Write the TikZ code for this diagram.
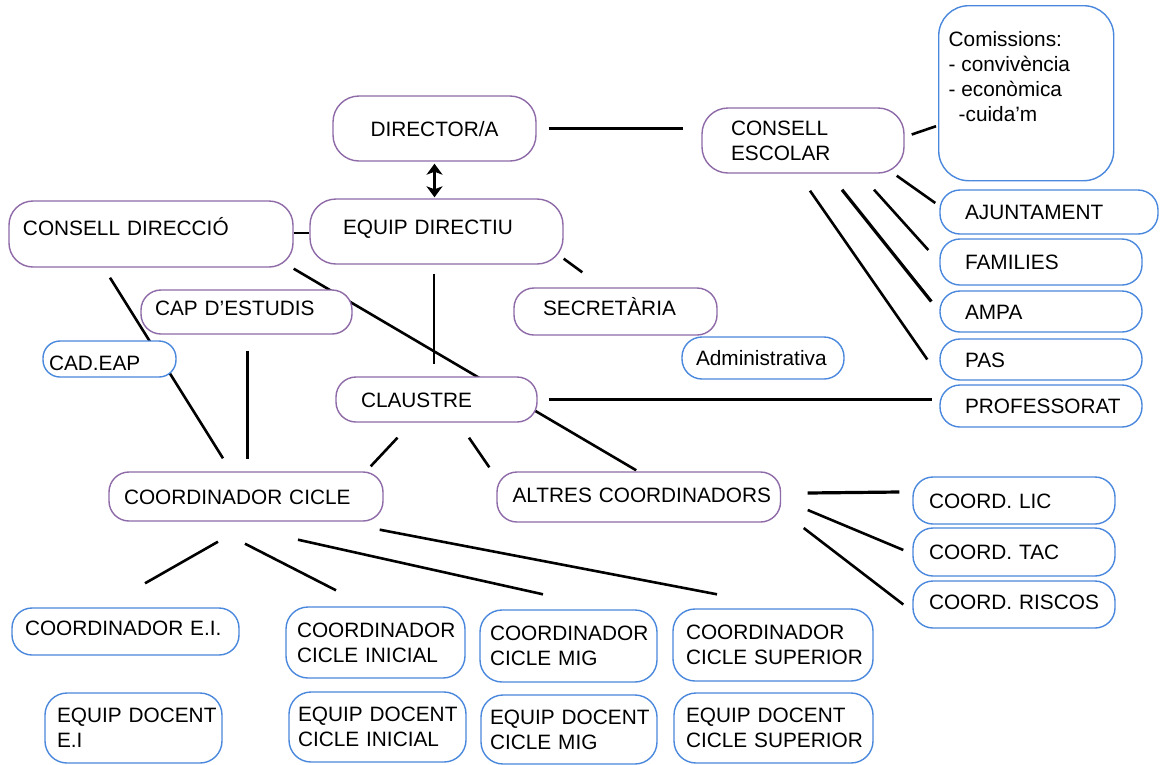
\documentclass[tikz,border=0pt]{standalone}
\usepackage{fontspec}
\setmainfont{Liberation Sans}
\usetikzlibrary{arrows.meta,calc,backgrounds}
\definecolor{purp}{HTML}{8E6AA8}
\definecolor{blu}{HTML}{4A88DD}
\newcommand\nodefont{\fontsize{20.8pt}{25pt}\selectfont}
\hyphenpenalty=10000
\exhyphenpenalty=10000
\begin{document}
\begin{tikzpicture}[x=1pt,y=-1pt,
  base/.style={draw, fill=white, line width=1.4pt, rounded corners=20pt, font=\nodefont, align=left, inner ysep=0pt},
  pbox/.style={base, draw=purp},
  bbox/.style={base, draw=blu},
  one/.style={text height=15pt, text depth=#1},
  one/.default=0pt,
  conn/.style={line width=2.6pt, black},
  connb/.style={line width=3.2pt, black},
  dbl/.style={line width=2.6pt, black, {Stealth[length=11pt,width=16pt,inset=3pt]}-{Stealth[length=11pt,width=16pt,inset=3pt]}}
]
\useasboundingbox (0,0) rectangle (1160,764);

% purple nodes
\node[pbox, one, rounded corners=26pt, align=center, minimum width=203pt, minimum height=65pt, inner xsep=0pt] (dir) at (434.5,128.5) {DIRECTOR/A};
\node[pbox, one=9pt, rounded corners=26pt, minimum width=253pt, minimum height=65pt, inner xsep=33pt, text width=187pt] (ed) at (436.5,231.5) {EQUIP~DIRECTIU};
\node[pbox, one=12pt, rounded corners=24pt, minimum width=284pt, minimum height=66pt, inner xsep=14pt, text width=256pt] (cd) at (151,234) {CONSELL~DIRECCIÓ};
\node[pbox, rounded corners=26pt, minimum width=202pt, minimum height=65pt, inner xsep=29pt, text width=144pt] (ce) at (803,140.5) {CONSELL\\ESCOLAR};
\node[pbox, one=7pt, minimum width=203pt, minimum height=47pt, inner xsep=29pt, text width=145pt] (sec) at (615.5,311.5) {SECRETÀRIA};
\node[pbox, one=8pt, minimum width=211pt, minimum height=44pt, inner xsep=14pt, text width=183pt] (cap) at (246.5,312) {CAP~D’ESTUDIS};
\node[pbox, one, minimum width=201pt, minimum height=45pt, inner xsep=25pt, text width=151pt] (cla) at (436.5,399.5) {CLAUSTRE};
\node[pbox, one, minimum width=274pt, minimum height=49pt, inner xsep=15pt, text width=244pt] (cc) at (246,496.5) {COORDINADOR~CICLE};
\node[pbox, one=4pt, minimum width=283.5pt, minimum height=50pt, inner xsep=15.5pt, text width=252.5pt] (ac) at (638.75,497) {ALTRES~COORDINADORS};

% blue nodes
\node[bbox, rounded corners=30pt, anchor=north west, minimum width=175pt, minimum height=175pt, inner xsep=10pt, inner ysep=26pt] (com) at (938,5)
  {\parbox[c][123pt][t]{155pt}{Comissions:\\- convivència\\- econòmica\\\hspace*{10pt}-cuida’m}};
\node[bbox, one, minimum width=218pt, minimum height=44pt, inner xsep=25pt, text width=168pt] (aj) at (1049,212) {AJUNTAMENT};
\node[bbox, one, minimum width=202pt, minimum height=46pt, inner xsep=25pt, text width=152pt] (fam) at (1041,262) {FAMILIES};
\node[bbox, one, minimum width=202pt, minimum height=41pt, inner xsep=25pt, text width=152pt] (ampa) at (1041,311.5) {AMPA};
\node[bbox, one, minimum width=202pt, minimum height=41pt, inner xsep=25pt, text width=152pt] (pas) at (1041,359.5) {PAS};
\node[bbox, one, minimum width=202pt, minimum height=42pt, inner xsep=25pt, text width=152pt] (prof) at (1041,406) {PROFESSORAT};
\node[bbox, one, minimum width=162pt, minimum height=42pt, inner xsep=14pt, text width=134pt] (adm) at (763,358) {Administrativa};
\node[bbox, text height=23pt, text depth=0pt, rounded corners=17pt, minimum width=133pt, minimum height=36pt, inner xsep=6pt, text width=121pt] (cad) at (109.5,359) {CAD.EAP};
\node[bbox, one, minimum width=202pt, minimum height=47pt, inner xsep=16pt, text width=170pt] (lic) at (1014,500.5) {COORD.~LIC};
\node[bbox, one, minimum width=202pt, minimum height=48pt, inner xsep=16pt, text width=170pt] (tac) at (1014,552) {COORD.~TAC};
\node[bbox, one=5pt, minimum width=202pt, minimum height=47pt, inner xsep=16pt, text width=170pt] (ris) at (1014,604.5) {COORD.~RISCOS};
\node[bbox, one=7pt, minimum width=227pt, minimum height=47pt, inner xsep=13pt, text width=201pt] (cei) at (125.5,631.5) {COORDINADOR~E.I.};
\node[bbox, rounded corners=22pt, minimum width=179pt, minimum height=71pt, inner xsep=11pt, text width=157pt] (cci) at (375.5,642.5) {COORDINADOR\\CICLE~INICIAL};
\node[bbox, rounded corners=22pt, minimum width=177pt, minimum height=72pt, inner xsep=10pt, text width=157pt] (ccm) at (568.5,646) {COORDINADOR\\CICLE~MIG};
\node[bbox, rounded corners=22pt, minimum width=200pt, minimum height=72pt, inner xsep=13pt, text width=174pt] (ccs) at (773,645) {COORDINADOR\\CICLE~SUPERIOR};
\node[bbox, rounded corners=22pt, minimum width=177pt, minimum height=70pt, inner xsep=12pt, text width=153pt] (edei) at (133.5,728) {EQUIP~DOCENT\\E.I};
\node[bbox, rounded corners=22pt, minimum width=177pt, minimum height=70pt, inner xsep=9pt, text width=159pt] (edci) at (377.5,727) {EQUIP~DOCENT\\CICLE~INICIAL};
\node[bbox, rounded corners=22pt, minimum width=176pt, minimum height=69pt, inner xsep=9pt, text width=158pt] (edcm) at (569,729.5) {EQUIP~DOCENT\\CICLE~MIG};
\node[bbox, rounded corners=22pt, minimum width=199pt, minimum height=70pt, inner xsep=12pt, text width=175pt] (edcs) at (773.5,728) {EQUIP~DOCENT\\CICLE~SUPERIOR};

\begin{pgfonlayer}{background}
\fill[white] (0,0) rectangle (1160,764);
\draw[conn] ([shift={(12,0)}]dir.east) -- ([shift={(-18,-12)}]ce.west);
\draw[dbl] ([shift={(0,2)}]dir.south) -- ([shift={(0,-1)}]dir.south |- ed.north);
\draw[conn] ([shift={(0,-1)}]cd.east) -- ([shift={(0,-1)}]cd.east -| ed.west);
\draw[conn] ([shift={(7,-6)}]ce.east) -- ([shift={(-2,33)}]com.west);
\draw[conn] ([shift={(-8,2)}]ce.south east) -- ([shift={(-4,-9)}]aj.west);
\draw[conn] ([shift={(71,16)}]ce.south) -- ([shift={(-11,-12)}]fam.west);
\draw[connb] ([shift={(39,16)}]ce.south) -- ([shift={(-8,-10)}]ampa.west);
\draw[conn] ([shift={(7,17)}]ce.south) -- ([shift={(-12,0)}]pas.west);
\draw[conn] ([shift={(0,-6)}]ed.south east) -- ([shift={(69,-15)}]sec.north west);
\draw[conn] ([shift={(-2.5,9)}]ed.south) -- ([shift={(-2.5,-12)}]ed.south |- cla.north);
\draw[conn] ([shift={(-41,10)}]cd.south) -- ([shift={(-23,-13)}]cc.north);
\draw[conn] ([shift={(0,1)}]cd.south east) -- ([shift={(-2.5,-1)}]ac.north);
\draw[conn] ([shift={(1,16)}]cap.south) -- ([shift={(1,-12)}]cap.south |- cc.north);
\draw[conn] ([shift={(-39,15)}]cla.south) -- ([shift={(-13,-5)}]cc.north east);
\draw[conn] ([shift={(32.5,15)}]cla.south) -- ([shift={(-7,-4)}]ac.north west);
\draw[conn] ([shift={(11,0)}]cla.east) -- ([shift={(-7,0)}]cla.east -| prof.west);
\draw[connb] ([shift={(26.5,-4)}]ac.east) -- ([shift={(-13,-8.5)}]lic.west);
\draw[conn] ([shift={(26.5,13)}]ac.east) -- ([shift={(-9,-2)}]tac.west);
\draw[conn] ([shift={(22.5,31)}]ac.east) -- ([shift={(-9,0)}]ris.west);
\draw[conn] ([shift={(-28,20)}]cc.south) -- ([shift={(19.5,-24)}]cei.north);
\draw[conn] ([shift={(-1,22)}]cc.south) -- ([shift={(-39.5,-16)}]cci.north);
\draw[conn] ([shift={(52,18)}]cc.south) -- ([shift={(-25.5,-15)}]ccm.north);
\draw[conn] ([shift={(-4,8)}]cc.south east) -- ([shift={(-56,-14)}]ccs.north);
\end{pgfonlayer}
\end{tikzpicture}
\end{document}
